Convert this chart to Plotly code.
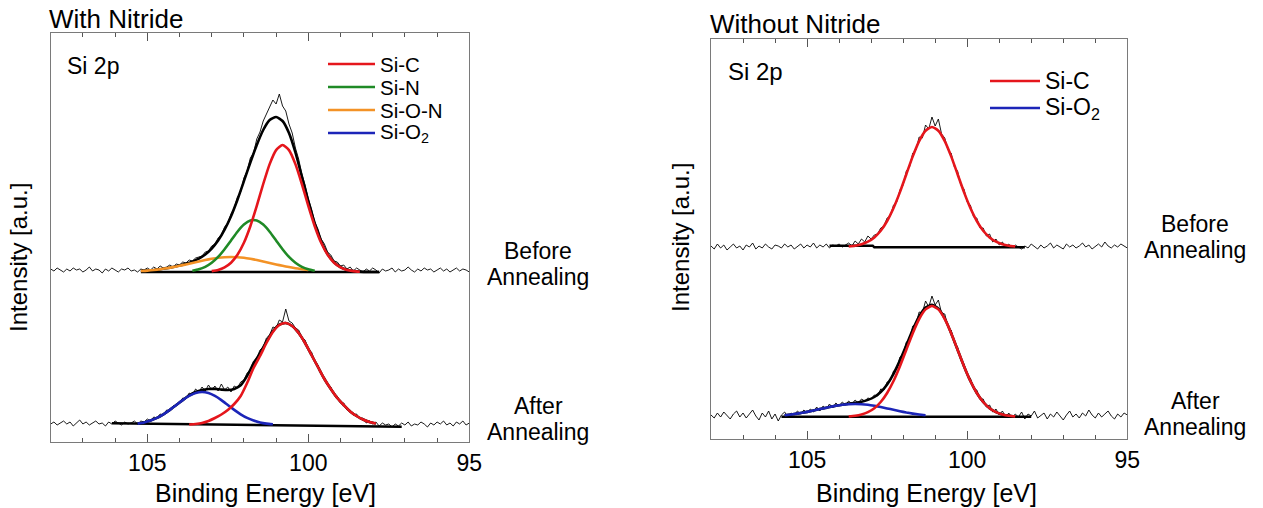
import numpy as np
import plotly.graph_objects as go

W, H = 1263, 508
FONT = "Liberation Sans, Arial, sans-serif"

# ---------------- data ----------------
# raw spectra sampled every 0.1 eV from 108.0 down to 95.0 eV (intensity above fitted background, a.u.)
raw_energy = np.round(np.linspace(108.0, 95.0, 131), 1)


def grid(start, stop, step=0.2):
    n = int(round((start - stop) / step)) + 1
    return np.round(np.linspace(start, stop, n), 2)


# ---- With Nitride, before annealing ----
wn_before_raw = [3, 1, 4, 2, 0, 3, 1, 4, 2, 3, 0, 2, 5, 1, 3, 2, -1, 3, 1, 4,
                 2, 0, 3, 2, 4, 1, 2, 0, 3, 2, 4, 2, 5, 3, 6, 4, 5, 7, 5, 8,
                 7, 10, 9, 12, 11, 14, 15, 16, 20, 21, 26, 28, 34, 37, 45, 49, 58, 64, 75, 80,
                 94, 101, 114, 119, 133, 140, 151, 158, 166, 172, 168, 178, 166, 161, 148, 139, 124, 113, 98, 87,
                 73, 63, 50, 43, 33, 28, 20, 17, 11, 10, 6, 7, 3, 5, 1, 4, 2, 0, 3, 1,
                 4, 2, -1, 3, 1, 2, 4, 0, 3, 1, 2, 5, 2, 0, 3, 1, 4, 2, 3, 0,
                 2, 4, 1, 3, 0, 2, 4, 1, 3, 2, 0]
wn_before_sic_x = grid(103.0, 98.4)
wn_before_sic = [0.9, 2.1, 4.7, 9.3, 17.2, 29.2, 45.8, 66.1, 88.0, 107.9, 121.9, 127.0,
                 121.9, 107.9, 88.0, 66.1, 45.8, 29.2, 17.2, 9.3, 4.7, 2.1, 0.9, 0.3]
wn_before_sin_x = grid(103.6, 99.8)
wn_before_sin = [1.3, 2.7, 5.2, 9.3, 15.1, 22.8, 31.5, 40.3, 47.4, 51.5, 51.5, 47.4,
                 40.3, 31.5, 22.8, 15.1, 9.3, 5.2, 2.7, 1.3]
wn_before_sion_x = grid(105.2, 100.0)
wn_before_sion = [1.0, 1.4, 2.0, 2.8, 3.7, 4.9, 6.2, 7.6, 9.1, 10.6, 12.0, 13.2, 14.2, 14.8,
                  15.0, 14.8, 14.2, 13.2, 12.0, 10.6, 9.1, 7.6, 6.2, 4.9, 3.7, 2.8, 2.0]
wn_before_env_x = grid(105.2, 97.8)
wn_before_env = [1.0, 1.4, 2.0, 2.8, 3.7, 4.9, 6.4, 8.2, 10.4, 13.4, 17.5, 23.4, 31.4, 42.3,
                 55.8, 72.3, 90.8, 109.5, 127.0, 142.0, 152.0, 155.0, 151.0, 139.0, 119.5,
                 95.5, 70.8, 48.5, 30.8, 17.9, 9.7, 4.9, 2.2, 0.9, 0.3, 0.1, 0.0, 0.0]
wn_before_bg_x = [105.2, 97.8]
wn_before_bg = [0.0, 0.0]

# ---- With Nitride, after annealing ----
wn_after_raw = [1, 3, 0, 2, 4, 1, 3, -1, 2, 5, 1, 3, 0, 2, 4, 1, 2, -1, 3, 1,
                4, 2, 0, 3, 1, 2, 4, 1, 4, 3, 6, 4, 8, 7, 11, 10, 15, 14, 19, 20,
                22, 27, 26, 32, 30, 36, 33, 38, 34, 40, 35, 39, 34, 41, 35, 38, 33, 39, 37, 43,
                45, 52, 55, 64, 67, 75, 78, 87, 90, 98, 97, 105, 103, 116, 104, 102, 97, 95, 88, 85,
                76, 73, 64, 60, 51, 48, 40, 38, 31, 29, 22, 22, 15, 15, 10, 11, 6, 7, 2, 4,
                1, 3, -1, 2, 0, 1, -2, 1, -1, 2, 0, 3, -1, 1, 0, 3, 1, -2, 2, 0,
                3, 1, 4, 0, 2, -1, 3, 1, 4, 0, 2]
wn_after_sic_x = grid(103.7, 97.9)
wn_after_sic = [0.5, 1, 2, 4, 7, 10.5, 15, 21, 29, 42, 57, 69, 82, 93, 100, 102, 99, 92, 82,
                70, 58, 46, 36, 27, 20, 13.5, 9, 5.5, 3, 1.5]
wn_after_sio2_x = grid(105.3, 101.1)
wn_after_sio2 = [1.4, 2.6, 4.5, 7.1, 10.7, 15.1, 20.0, 24.9, 29.1, 32.0, 33.0, 32.0, 29.1,
                 24.9, 20.0, 15.1, 10.7, 7.1, 4.5, 2.6, 1.4, 0.75]
wn_after_env_x = grid(105.3, 97.9)
wn_after_env = [1.4, 2.6, 4.5, 7.1, 10.7, 15.1, 20.0, 24.9, 29.6, 33.0, 35.0, 36.0, 36.1,
                35.4, 35.0, 36.1, 39.7, 49.1, 61.5, 71.6, 83.4, 93.8, 100.3, 102, 99, 92, 82,
                70, 58, 46, 36, 27, 20, 13.5, 9, 5.5, 3, 1.5]
wn_after_bg_x = [106.1, 104.6, 102.3, 100.0, 97.1]
wn_after_bg = [1.7, 1.2, 0.2, -0.8, -1.7]

# ---- Without Nitride, before annealing ----
wo_before_raw = [1, -2, 3, -1, 2, -3, 0, 3, -1, 1, -3, 2, 0, 4, -2, 1, -1, 3, 0, -2,
                 2, 1, -1, 3, 0, 2, -2, 1, 3, -1, 2, 0, 4, -1, 2, 0, 3, -1, 2, 1,
                 3, 0, 2, 4, 1, 6, 3, 8, 5, 11, 8, 12, 13, 19, 21, 29, 31, 42, 45, 57,
                 62, 76, 80, 94, 97, 110, 109, 122, 118, 130, 121, 128, 113, 109, 97, 94, 80, 76, 62, 58,
                 45, 42, 30, 29, 19, 19, 11, 13, 5, 8, 2, 5, 0, 3, -1, 2, 0, -2, 1, -1,
                 3, 0, -2, 2, -1, 1, 4, -1, 2, 0, -2, 3, 0, 2, -1, 1, 4, 0, 2, -2,
                 1, 3, 0, 5, 1, -1, 2, 0, 3, 1, -1]
wo_before_sic_x = grid(103.7, 98.5)
wo_before_sic = [0.6, 1.3, 2.7, 5.3, 9.6, 16.2, 26.0, 39.0, 54.9, 72.8, 90.6, 105.9, 116.3,
                 120.0, 116.3, 105.9, 90.6, 72.8, 54.9, 39.0, 26.0, 16.2, 9.6, 5.3, 2.7, 1.3, 0.6]
wo_before_bg_x = [104.3, 102.95, 102.9, 98.2]
wo_before_bg = [1.3, 1.3, -0.3, -0.3]

# ---- Without Nitride, after annealing ----
wo_after_raw = [2, -1, 4, 0, 5, 1, -2, 3, 6, 0, 4, -1, 3, 7, 1, -3, 4, 0, 6, -2,
                3, -4, 2, 5, 0, 4, 2, 6, 3, 7, 4, 8, 5, 10, 6, 11, 8, 13, 9, 14,
                11, 15, 12, 16, 13, 17, 14, 18, 16, 19, 18, 22, 21, 28, 27, 35, 36, 46, 48, 60,
                63, 75, 78, 91, 93, 105, 104, 116, 110, 121, 112, 117, 104, 103, 90, 87, 74, 70, 57, 53,
                42, 39, 28, 27, 18, 18, 10, 12, 5, 8, 2, 6, 0, 4, -1, 3, 0, 5, -2, 3,
                1, 6, -1, 2, 4, -2, 3, 0, 5, 1, -3, 2, 6, 0, 3, -1, 4, 1, 7, 2,
                -1, 4, 0, 3, 6, 1, -2, 3, 0, 4, 2]
wo_after_sic_x = grid(103.7, 98.5)
wo_after_sic = [0.6, 1.2, 2.5, 4.9, 8.8, 15.0, 24.0, 36.0, 50.8, 67.3, 83.8, 98.0, 107.6,
                111.0, 107.6, 98.0, 83.8, 67.3, 50.8, 36.0, 24.0, 15.0, 8.8, 4.9, 2.5, 1.2, 0.6]
wo_after_sio2_x = grid(105.7, 101.3)
wo_after_sio2 = [1.8, 2.5, 3.4, 4.5, 5.8, 7.2, 8.6, 10.0, 11.2, 12.2, 12.8, 13.0, 12.8, 12.2,
                 11.2, 10.0, 8.6, 7.2, 5.8, 4.5, 3.4, 2.5, 1.8]
wo_after_env_x = grid(105.7, 98.5)
wo_after_env = [1.8, 2.5, 3.4, 4.5, 5.8, 7.2, 8.6, 10.0, 11.2, 12.3, 13.4, 14.2, 15.3, 17.1,
                20.0, 25.0, 32.6, 43.2, 56.6, 71.8, 87.2, 100.5, 109.4, 112.2, 108.4, 98.5,
                83.8, 67.3, 50.8, 36.0, 24.0, 15.0, 8.8, 4.9, 2.5, 1.2, 0.6]
wo_after_bg_x = [105.8, 98.0]
wo_after_bg = [0.3, 0.3]

# component labels / colours
components = ["Si-C", "Si-N", "Si-O-N", "Si-O<sub>2</sub>"]
RED, GREEN, ORANGE, BLUE = "#e5161c", "#1f8a26", "#f39226", "#1c25b8"

# stacking offsets of each spectrum inside its panel (a.u.)
WN_BEFORE_BASE, WN_AFTER_BASE = 170, 17
WO_BEFORE_BASE, WO_AFTER_BASE = 192, 22

# ---------------- figure ----------------
fig = go.Figure()


def add(x, y, base, color, width, ax, spline=True):
    fig.add_trace(go.Scatter(
        x=x, y=np.asarray(y, dtype=float) + base, mode="lines",
        line=dict(color=color, width=width, shape="spline" if spline else "linear", smoothing=0.6),
        xaxis="x" if ax == 1 else "x2", yaxis="y" if ax == 1 else "y2",
        showlegend=False, hoverinfo="skip"))


# left panel
for raw, base in [(wn_before_raw, WN_BEFORE_BASE), (wn_after_raw, WN_AFTER_BASE)]:
    add(raw_energy, raw, base, "black", 0.9, 1, spline=False)
add(wn_before_bg_x, wn_before_bg, WN_BEFORE_BASE, "black", 2.6, 1, spline=False)
add(wn_after_bg_x, wn_after_bg, WN_AFTER_BASE, "black", 2.6, 1, spline=False)
add(wn_before_env_x, wn_before_env, WN_BEFORE_BASE, "black", 2.6, 1)
add(wn_after_env_x, wn_after_env, WN_AFTER_BASE, "black", 2.6, 1)
add(wn_before_sion_x, wn_before_sion, WN_BEFORE_BASE, ORANGE, 2.6, 1)
add(wn_before_sin_x, wn_before_sin, WN_BEFORE_BASE, GREEN, 2.6, 1)
add(wn_before_sic_x, wn_before_sic, WN_BEFORE_BASE, RED, 2.6, 1)
add(wn_after_sio2_x, wn_after_sio2, WN_AFTER_BASE, BLUE, 2.6, 1)
add(wn_after_sic_x, wn_after_sic, WN_AFTER_BASE, RED, 2.6, 1)

# right panel
for raw, base in [(wo_before_raw, WO_BEFORE_BASE), (wo_after_raw, WO_AFTER_BASE)]:
    add(raw_energy, raw, base, "black", 0.9, 2, spline=False)
add(wo_before_bg_x, wo_before_bg, WO_BEFORE_BASE, "black", 2.6, 2, spline=False)
add(wo_after_bg_x, wo_after_bg, WO_AFTER_BASE, "black", 2.6, 2, spline=False)
add(wo_after_env_x, wo_after_env, WO_AFTER_BASE, "black", 2.6, 2)
add(wo_after_sio2_x, wo_after_sio2, WO_AFTER_BASE, BLUE, 2.6, 2)
add(wo_before_sic_x, wo_before_sic, WO_BEFORE_BASE, RED, 2.6, 2)
add(wo_after_sic_x, wo_after_sic, WO_AFTER_BASE, RED, 2.6, 2)

FRAME = "#7a7a7a"


def xaxis(domain):
    return dict(domain=domain, range=[108, 95], tickvals=[105, 100, 95], ticks="inside",
                ticklen=8, tickwidth=1, tickcolor="#555", showline=True, linecolor=FRAME,
                linewidth=1, mirror="ticks", showgrid=False, zeroline=False,
                minor=dict(dtick=1, ticks="inside", ticklen=4, tickcolor="#555", showgrid=False),
                tickfont=dict(family=FONT, size=23, color="black"), automargin=False)


def yaxis(domain, top):
    return dict(domain=domain, range=[0, top], showline=True, linecolor=FRAME, linewidth=1,
                mirror=True, showticklabels=False, ticks="", showgrid=False, zeroline=False,
                automargin=False)


def px2x(px):
    return px / W


def px2y(py):
    return 1 - py / H


fig.update_layout(
    width=W, height=H, autosize=False,
    margin=dict(l=0, r=0, t=0, b=0),
    paper_bgcolor="white", plot_bgcolor="white",
    xaxis=xaxis([px2x(50.7), px2x(469.3)]),
    yaxis=yaxis([px2y(442), px2y(33)], 409),
    xaxis2=dict(xaxis([px2x(711), px2x(1127.3)]), anchor="y2"),
    yaxis2=dict(yaxis([px2y(439), px2y(39)], 400), anchor="x2"),
)

ann = []


def text(t, px, py, size, xanchor="left", angle=0):
    ann.append(dict(text=t, x=px2x(px), y=px2y(py), xref="paper", yref="paper",
                    xanchor=xanchor, yanchor="middle", showarrow=False, textangle=angle,
                    borderpad=0, font=dict(family=FONT, size=size, color="black")))


text("With Nitride", 48, 19, 26)
text("Without Nitride", 709, 24, 26)
text("Si 2p", 66, 66, 23)
text("Si 2p", 727, 72, 24)
text("Intensity [a.u.]", 18, 258, 24, xanchor="center", angle=-90)
text("Intensity [a.u.]", 680, 238, 24, xanchor="center", angle=-90)
text("Binding Energy [eV]", 265, 493, 25, xanchor="center")
text("Binding Energy [eV]", 926, 493, 25, xanchor="center")
for cx, ys in [(538, (251, 277, 406, 432)), (1195, (224, 250, 401, 427))]:
    text("Before", cx, ys[0], 23, xanchor="center")
    text("Annealing", cx, ys[1], 23, xanchor="center")
    text("After", cx, ys[2], 23, xanchor="center")
    text("Annealing", cx, ys[3], 23, xanchor="center")

shapes = []
left_keys = [(components[0], RED, 64), (components[1], GREEN, 87),
             (components[2], ORANGE, 110), (components[3], BLUE, 133)]
for label, col, py in left_keys:
    shapes.append(dict(type="line", xref="paper", yref="paper", x0=px2x(328), x1=px2x(375),
                       y0=px2y(py), y1=px2y(py), line=dict(color=col, width=2.6)))
    text(label, 379, py, 20.5)
right_keys = [(components[0], RED, 81), (components[3], BLUE, 108)]
for label, col, py in right_keys:
    shapes.append(dict(type="line", xref="paper", yref="paper", x0=px2x(990), x1=px2x(1040),
                       y0=px2y(py), y1=px2y(py), line=dict(color=col, width=2.6)))
    text(label, 1044, py, 23)

fig.update_layout(annotations=ann, shapes=shapes)
fig.write_html("out.html", config={"displayModeBar": False},
               post_script="document.body.style.margin='0';document.body.style.padding='0';"
                           "document.body.style.overflow='hidden';")
